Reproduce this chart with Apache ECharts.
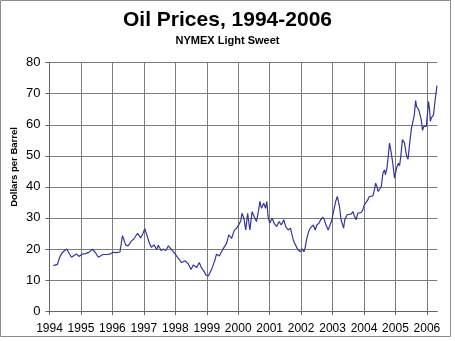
<!DOCTYPE html>
<html><head><meta charset="utf-8">
<script src="https://cdn.jsdelivr.net/npm/echarts@6/dist/echarts.min.js"></script>
<style>html,body{margin:0;padding:0;background:#fff}#c{width:455px;height:341px}</style>
</head><body><div id="c"></div>
<script>
const chartTitle = 'Oil Prices, 1994-2006';
const chartSubtitle = 'NYMEX Light Sweet';
const yAxisTitle = 'Dollars per Barrel';
const xTickLabels = ['1994','1995','1996','1997','1998','1999','2000','2001','2002','2003','2004','2005','2006'];
const yTickLabels = ['0','10','20','30','40','50','60','70','80'];

const years = [
1994.12,1994.18,1994.25,1994.32,1994.39,1994.47,1994.55,1994.62,1994.70,1994.78,1994.86,1994.93,1994.98,
1995.06,1995.15,1995.25,1995.37,1995.45,1995.55,1995.62,1995.70,1995.80,1995.92,
1996.02,1996.12,1996.24,1996.32,1996.38,1996.42,1996.50,1996.60,1996.68,1996.73,1996.80,1996.90,1996.97,
1997.03,1997.08,1997.17,1997.24,1997.32,1997.41,1997.46,1997.55,1997.62,1997.70,1997.78,1997.84,1997.90,
1998.00,1998.09,1998.20,1998.31,1998.41,1998.50,1998.57,1998.68,1998.76,1998.84,1998.92,1998.97,
1999.05,1999.10,1999.17,1999.26,1999.31,1999.40,1999.47,1999.55,1999.63,1999.70,1999.79,1999.87,1999.95,
2000.03,2000.08,2000.12,2000.18,2000.24,2000.30,2000.37,2000.44,2000.51,2000.58,2000.64,2000.69,2000.74,2000.81,2000.87,2000.91,2000.95,
2001.00,2001.08,2001.14,2001.22,2001.30,2001.37,2001.45,2001.51,2001.59,2001.66,2001.75,2001.82,2001.90,2001.98,
2002.04,2002.09,2002.13,2002.18,2002.24,2002.29,2002.34,2002.39,2002.45,2002.50,2002.57,2002.62,2002.69,2002.74,2002.79,2002.86,2002.92,2002.98,
2003.04,2003.10,2003.15,2003.19,2003.22,2003.27,2003.31,2003.35,2003.39,2003.46,2003.52,2003.60,2003.65,2003.70,2003.75,2003.80,2003.86,2003.91,2003.96,
2004.01,2004.07,2004.12,2004.17,2004.23,2004.28,2004.33,2004.37,2004.41,2004.45,2004.49,2004.55,2004.60,2004.65,2004.68,2004.73,2004.77,2004.81,2004.85,2004.90,2004.94,2004.97,
2005.00,2005.05,2005.09,2005.13,2005.17,2005.22,2005.26,2005.29,2005.32,2005.36,2005.40,2005.43,2005.47,2005.51,2005.55,2005.60,2005.64,2005.67,2005.71,2005.74,2005.78,2005.82,2005.86,2005.90,2005.95,2005.98,
2006.02,2006.05,2006.08,2006.11,2006.14,2006.17,2006.21,2006.25,2006.29,2006.32
];
const prices = [
14.6,14.5,15.0,17.2,18.6,19.4,20.0,18.6,17.3,17.9,18.4,17.6,17.2,
18.4,18.5,18.9,19.9,19.0,17.3,17.7,18.2,18.2,18.3,
18.9,18.8,19.0,24.3,22.5,21.3,21.0,22.5,23.2,24.0,25.0,23.5,25.0,
26.5,25.0,22.0,20.5,21.3,19.8,21.2,19.5,20.0,19.5,21.0,20.5,19.5,
18.3,17.0,15.6,16.2,15.2,13.4,14.8,14.0,15.6,13.8,12.7,11.6,
11.3,11.8,13.8,16.4,18.3,17.7,19.1,20.5,21.8,24.5,23.4,25.9,26.7,
28.0,29.0,31.5,29.9,26.1,31.5,26.1,32.0,30.4,28.8,32.0,35.3,33.1,34.7,33.1,35.3,30.4,
28.3,29.9,28.3,27.2,28.8,27.7,29.4,27.2,26.1,26.7,22.9,21.3,19.7,19.1,
20.0,19.1,20.5,23.4,25.6,26.7,26.1,27.7,26.1,27.7,28.3,29.4,30.2,29.4,27.7,26.1,27.7,29.4,
32.6,35.3,36.9,37.1,33.6,29.4,28.8,26.7,29.4,31.0,31.5,31.3,32.0,30.4,29.4,31.5,31.5,31.8,32.5,
34.2,33.6,35.8,36.9,36.7,37.1,39.0,41.2,40.1,38.5,38.0,40.1,44.4,45.5,43.9,46.0,49.8,54.1,51.9,48.7,45.5,42.8,
44.4,46.5,47.6,46.8,49.8,55.2,55.7,54.1,51.9,49.8,48.9,51.9,55.7,58.9,59.5,63.2,67.8,65.9,66.5,64.8,63.2,61.6,58.2,59.5,60.0,59.5,
63.8,67.5,65.4,61.1,62.2,61.6,63.2,67.0,70.2,72.6
];

const FONT = '"Liberation Sans", Arial, sans-serif';
const chart = echarts.init(document.getElementById('c'), null, {renderer: 'canvas'});
chart.setOption({
  animation: false,
  backgroundColor: '#fff',
  title: [
    {text: chartTitle, left: 'center', top: 10, padding: 0,
     textStyle: {fontFamily: FONT, fontSize: 21, fontWeight: 'bold', color: '#000'}},
    {text: chartSubtitle, left: 'center', top: 35, padding: 0,
     textStyle: {fontFamily: FONT, fontSize: 11, fontWeight: 'bold', color: '#000'}}
  ],
  graphic: [
    {type: 'rect', shape: {x: 0.5, y: 0.5, width: 450, height: 336}, style: {fill: 'none', stroke: '#8c8c8c', lineWidth: 1}, silent: true},
    {type: 'text', x: 14.5, y: 167, rotation: Math.PI / 2,
     style: {text: yAxisTitle, font: 'bold 9.5px ' + FONT, fill: '#000', textAlign: 'center', textVerticalAlign: 'middle'}}
  ],
  grid: {left: 49.5, right: 17.7, top: 62.7, bottom: 30, containLabel: false},
  xAxis: {
    type: 'value', min: 1994, max: 2006.33, interval: 1,
    axisLine: {show: true, lineStyle: {color: '#666', width: 1}},
    axisTick: {show: true, inside: false, length: 4, lineStyle: {color: '#666'}},
    axisLabel: {margin: 12, fontFamily: FONT, fontSize: 12, color: '#000', showMaxLabel: false,
      formatter: function (v) { const i = Math.round(v - 1994); return (Math.abs(v - Math.round(v)) < 1e-6 && xTickLabels[i]) ? xTickLabels[i] : ''; }},
    splitLine: {show: true, showMaxLine: false, lineStyle: {color: '#7c7c7c', width: 1}}
  },
  yAxis: {
    type: 'value', min: 0, max: 80, interval: 10,
    axisLine: {show: true, lineStyle: {color: '#666', width: 1}},
    axisTick: {show: true, inside: false, length: 4, lineStyle: {color: '#666'}},
    axisLabel: {margin: 9, fontFamily: FONT, fontSize: 13, color: '#000',
      formatter: function (v) { return yTickLabels[Math.round(v / 10)]; }},
    splitLine: {show: true, lineStyle: {color: '#7c7c7c', width: 1}}
  },
  series: [{
    type: 'line',
    data: years.map((y, i) => [y, prices[i]]),
    symbol: 'none',
    lineStyle: {color: '#3535a2', width: 1.2},
    smooth: false
  }]
});
</script></body></html>
